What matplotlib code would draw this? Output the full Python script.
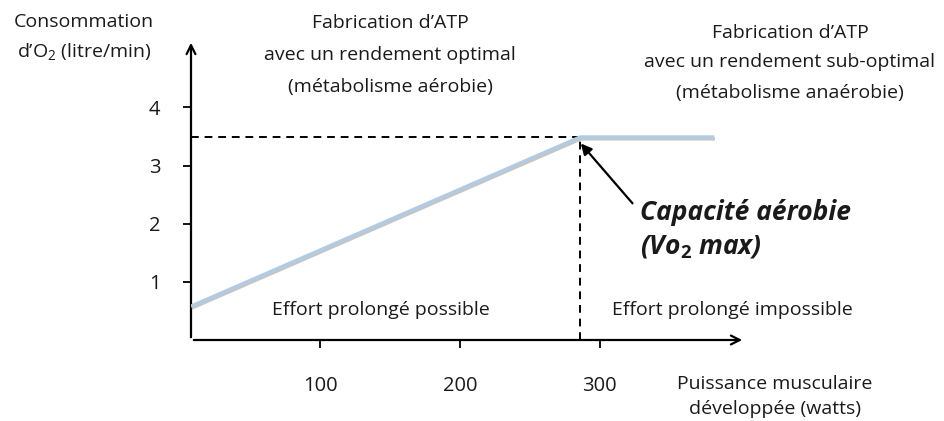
import matplotlib
matplotlib.use("Agg")
import matplotlib.pyplot as plt
import matplotlib.patheffects as pe

FONT = 'Open Sans'
plt.rcParams['font.family'] = [FONT, 'DejaVu Sans']
plt.rcParams['mathtext.fontset'] = 'custom'
plt.rcParams['mathtext.rm'] = FONT
plt.rcParams['mathtext.it'] = FONT + ':italic'
plt.rcParams['mathtext.bf'] = FONT + ':bold'

# Data
power_w = [7.5, 286, 382]          # puissance (watts)
vo2_lmin = [0.58, 3.49, 3.49]      # consommation d'O2 (litre/min)
vo2max = 3.5
p_vo2max = 286
xticks = [100, 200, 300]
yticks = [1, 2, 3, 4]

W, H = 944, 421
fig = plt.figure(figsize=(W / 100, H / 100), dpi=100)
ax = fig.add_axes([191 / W, 1 - 340 / H, (745 - 191) / W, (340 - 40) / H])
ax.set_xlim(7.5, 404)
ax.set_ylim(0, 5.16)
for s in ax.spines.values():
    s.set_visible(False)

txtc = '#1a1a1a'
# axes arrows
ax.annotate('', xy=(404, 0), xytext=(7.5, 0),
            arrowprops=dict(arrowstyle='->', lw=1.6, color='black', mutation_scale=16),
            annotation_clip=False)
ax.annotate('', xy=(7.5, 5.16), xytext=(7.5, 0),
            arrowprops=dict(arrowstyle='->', lw=1.6, color='black', mutation_scale=16),
            annotation_clip=False)

ax.set_xticks(xticks)
ax.set_yticks(yticks)
ax.tick_params(axis='both', length=6, width=1.3, labelsize=14.5, colors='black',
               labelcolor=txtc)
ax.tick_params(axis='x', pad=20)
ax.tick_params(axis='y', pad=16)

# dashed lines
ax.plot([7.5, p_vo2max], [vo2max, vo2max], ls=(0, (4, 3)), color='black', lw=1.4)
ax.plot([p_vo2max, p_vo2max], [0, vo2max], ls=(0, (4, 3)), color='black', lw=1.4)

# main line with shadow
ax.plot(power_w, vo2_lmin, color='#b3cbe2', lw=2.6, solid_capstyle='butt',
        path_effects=[pe.SimpleLineShadow(offset=(0.5, -1.2), shadow_color='gray', alpha=0.45),
                      pe.Normal()], zorder=3)

# arrow to Vo2max
ax.annotate('', xy=(286.5, 3.38), xytext=(323.5, 2.35),
            arrowprops=dict(arrowstyle='-|>', lw=1.6, color='black', mutation_scale=16,
                            shrinkA=0, shrinkB=0))

def ft(x, y, s, **kw):
    kw.setdefault('color', txtc)
    kw.setdefault('fontsize', 14)
    fig.text(x / W, 1 - y / H, s, va='center', **kw)

ft(84, 22, 'Consommation', ha='center')
ft(84, 51, 'd\u2019O$_2$ (litre/min)', ha='center')

ft(390, 23, 'Fabrication d\u2019ATP', ha='center')
ft(390, 55, 'avec un rendement optimal', ha='center')
ft(390, 87, '(métabolisme aérobie)', ha='center')

ft(790, 33, 'Fabrication d\u2019ATP', ha='center')
ft(790, 62, 'avec un rendement sub-optimal', ha='center')
ft(790, 93, '(métabolisme anaérobie)', ha='center')

ft(381, 310, 'Effort prolongé possible', ha='center')
ft(732, 310, 'Effort prolongé impossible', ha='center')

ft(775, 384, 'Puissance musculaire', ha='center')
ft(775, 409, 'développée (watts)', ha='center')

ft(640, 213, 'Capacité aérobie', ha='left', fontsize=19, fontweight='bold', fontstyle='italic')
ft(640, 246, '(Vo$_\\mathbf{2}$ max)', ha='left', fontsize=19, fontweight='bold', fontstyle='italic')

fig.savefig('out.png', dpi=100)
